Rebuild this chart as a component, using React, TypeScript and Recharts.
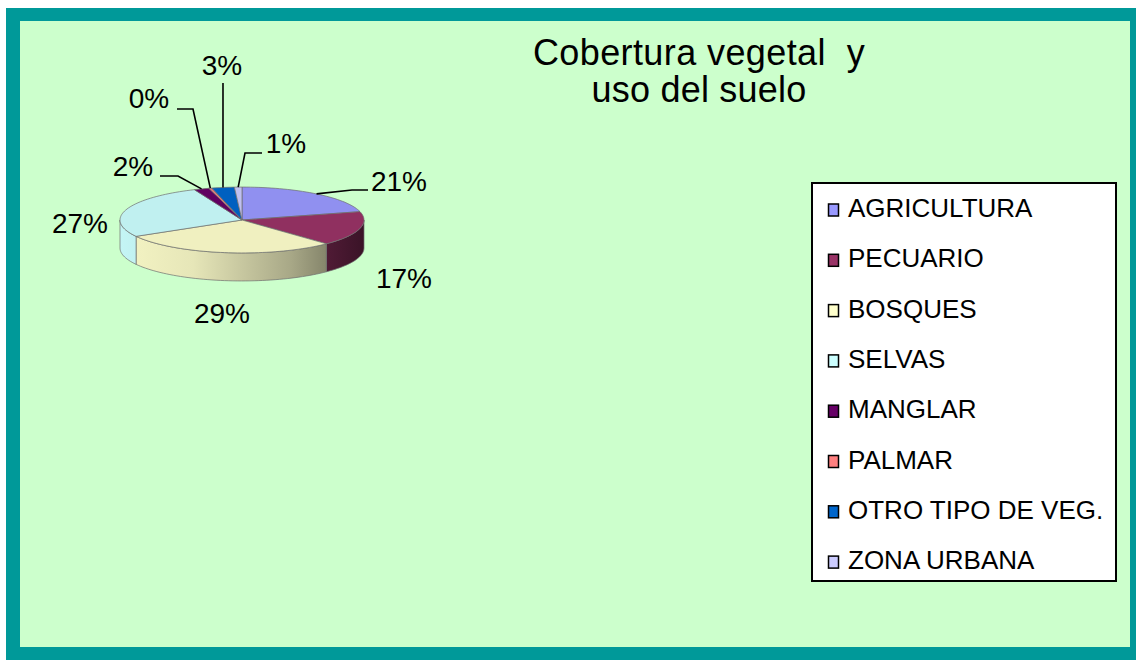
import React from 'react';
import { PieChart, Pie, Cell, Legend } from 'recharts';

const categories = ['AGRICULTURA', 'PECUARIO', 'BOSQUES', 'SELVAS', 'MANGLAR', 'PALMAR', 'OTRO TIPO DE VEG.', 'ZONA URBANA'];
const shares = [21, 17, 29, 27, 2, 0.4, 3, 1];
const colors = ['#9999FF', '#993366', '#FFFFCC', '#CCFFFF', '#660066', '#FF8080', '#0066CC', '#CCCCFF'];

const data = categories.map((name, i) => ({ name, value: shares[i] }));

// where each percent label sits, relative to the pie centre (tx/ty = text centre/baseline)
// lead = [elbowX, elbowY, endX] for the leader line, null elbowX = straight up
const labelSpots: any[] = [
  { tx: 157, ty: -29, lead: [110, -30, 126] },
  { tx: 162, ty: 68 },
  { tx: -20, ty: 103 },
  { tx: -162, ty: 13 },
  { tx: -109, ty: -44, lead: [-64, -44, -82] },
  { tx: -93, ty: -112, lead: [-49, -111, -65] },
  { tx: -20, ty: -145, lead: [null, -137, null] },
  { tx: 44, ty: -67, lead: [3, -67, 20] },
];

const FONT = '"Liberation Sans", Arial, sans-serif';
const TILT = 0.27;
const DEPTH = 28;
const RAD = Math.PI / 180;

const shade = (hex: string, f: number) => {
  const n = parseInt(hex.slice(1), 16);
  const c = [(n >> 16) & 255, (n >> 8) & 255, n & 255].map((v) => Math.round(Math.min(255, v * f)));
  return `rgb(${c[0]},${c[1]},${c[2]})`;
};

const pt = (cx: number, cy: number, rx: number, ry: number, a: number) => [
  cx + rx * Math.cos(a * RAD),
  cy - ry * Math.sin(a * RAD),
];

const arcPoints = (cx: number, cy: number, rx: number, ry: number, a1: number, a2: number, dy = 0) => {
  const n = Math.max(2, Math.ceil(Math.abs(a2 - a1) / 2));
  const out: string[] = [];
  for (let i = 0; i <= n; i++) {
    const [x, y] = pt(cx, cy, rx, ry, a1 + ((a2 - a1) * i) / n);
    out.push(`${x.toFixed(2)},${(y + dy).toFixed(2)}`);
  }
  return out;
};

const Slice3D = (props: any) => {
  const { cx, cy, outerRadius, startAngle, endAngle, fill } = props;
  const rx = outerRadius;
  const ry = outerRadius * TILT;
  const lo = Math.min(startAngle, endAngle);
  const hi = Math.max(startAngle, endAngle);
  const walls: number[][] = [];
  for (let k = -2; k <= 1; k++) {
    const f1 = Math.max(lo, 180 + 360 * k);
    const f2 = Math.min(hi, 360 + 360 * k);
    if (f2 > f1) walls.push([f1, f2]);
  }
  const gid = 'side' + String(fill).replace('#', '');
  const top = `M${cx},${cy} L` + arcPoints(cx, cy, rx, ry, startAngle, endAngle).join(' L') + ' Z';
  return (
    <g>
      <defs>
        <linearGradient id={gid} gradientUnits="userSpaceOnUse" x1={cx - rx} y1={0} x2={cx + rx} y2={0}>
          <stop offset="0" stopColor={shade(fill, 0.96)} />
          <stop offset="0.3" stopColor={shade(fill, 0.9)} />
          <stop offset="0.7" stopColor={shade(fill, 0.66)} />
          <stop offset="1" stopColor={shade(fill, 0.38)} />
        </linearGradient>
      </defs>
      {walls.map(([a1, a2], i) => {
        const upper = arcPoints(cx, cy, rx, ry, a1, a2);
        const lower = arcPoints(cx, cy, rx, ry, a2, a1, DEPTH);
        return (
          <path
            key={i}
            d={'M' + upper.join(' L') + ' L' + lower.join(' L') + ' Z'}
            fill={`url(#${gid})`}
            stroke="#6e6e6e"
            strokeWidth={0.7}
          />
        );
      })}
      <path d={top} fill={shade(fill, 0.94)} stroke="#6e6e6e" strokeWidth={0.7} />
    </g>
  );
};

const renderLabel = (props: any) => {
  const { cx, cy, midAngle, outerRadius, percent, index } = props;
  const spot = labelSpots[index];
  if (!spot) return null;
  const [ax, ay] = pt(cx, cy, outerRadius, outerRadius * TILT, midAngle);
  let leader = null;
  if (spot.lead) {
    const [ex, ey, hx] = spot.lead;
    const pts =
      ex === null
        ? `${ax},${ay} ${ax},${cy + ey}`
        : `${ax},${ay} ${cx + ex},${cy + ey} ${cx + hx},${cy + ey}`;
    leader = <polyline points={pts} fill="none" stroke="#000" strokeWidth={1.6} />;
  }
  return (
    <g>
      {leader}
      <text x={cx + spot.tx} y={cy + spot.ty} textAnchor="middle" fontSize={28} fontFamily={FONT} fill="#000">
        {Math.round(percent * 100) + '%'}
      </text>
    </g>
  );
};

const LegendBox = (props: any) => {
  // keep the legend in data order (recharts sorts it by name)
  const payload = [...(props.payload || [])].sort(
    (a: any, b: any) => categories.indexOf(a.value) - categories.indexOf(b.value)
  );
  return (
    <svg width={306} height={400} style={{ display: 'block' }}>
      <rect x={1} y={1} width={304} height={398} fill="#fff" stroke="#000" strokeWidth={2} />
      {payload.map((p: any, i: number) => {
        const base = 35 + i * 50.3;
        return (
          <g key={i}>
            <rect x={17.5} y={base - 13} width={10} height={12} fill={p.color} stroke="#000" strokeWidth={1.5} />
            <text x={37} y={base} fontSize={26} fontFamily={FONT} fill="#000">
              {p.value}
            </text>
          </g>
        );
      })}
    </svg>
  );
};

const App = () => {
  return (
    <div style={{ position: 'absolute', left: 0, top: 0, width: 1136, height: 660, background: '#fff' }}>
      <svg width={1136} height={660} style={{ position: 'absolute', left: 0, top: 0 }}>
        <rect x={6} y={8} width={1130} height={652} fill="#009999" />
        <rect x={20} y={21} width={1110} height={626} fill="#CCFFCC" />
        <text x={699} y={65} textAnchor="middle" fontSize={36} fontFamily={FONT} letterSpacing={0.4} style={{ whiteSpace: 'pre' }}>
          {'Cobertura vegetal  y'}
        </text>
        <text x={699} y={102} textAnchor="middle" fontSize={36} fontFamily={FONT} letterSpacing={0.2}>
          uso del suelo
        </text>
      </svg>
      <div style={{ position: 'absolute', left: 0, top: 0 }}>
        <PieChart width={1136} height={660} margin={{ top: 0, right: 0, bottom: 0, left: 0 }}>
          <Pie
            data={data}
            dataKey="value"
            nameKey="name"
            cx={242}
            cy={220}
            outerRadius={122}
            startAngle={90}
            endAngle={-270}
            isAnimationActive={false}
            shape={Slice3D}
            activeShape={Slice3D}
            inactiveShape={Slice3D}
            label={renderLabel}
            labelLine={false}
          >
            {data.map((d, i) => (
              <Cell key={d.name} fill={colors[i]} />
            ))}
          </Pie>
          <Legend
            layout="vertical"
            align="right"
            verticalAlign="top"
            content={LegendBox}
            wrapperStyle={{ left: 811, top: 182, right: 'auto', bottom: 'auto', width: 306, height: 400 }}
          />
        </PieChart>
      </div>
    </div>
  );
};

export default App;
